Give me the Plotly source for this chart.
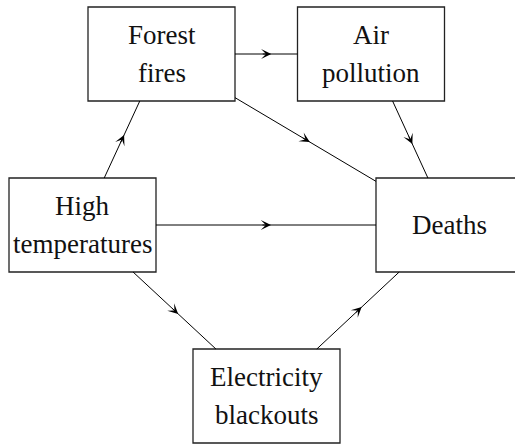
import plotly.graph_objects as go

# Nodes of the causal diagram
node_names = ["Forest fires", "Air pollution", "High temperatures", "Deaths", "Electricity blackouts"]
node_lines = [["Forest", "fires"], ["Air", "pollution"], ["High", "temperatures"], ["Deaths"], ["Electricity", "blackouts"]]
# layout (pixel-like coordinates, y downwards)
node_cx = [161.5, 371.0, 82.5, 449.5, 266.5]
node_cy = [54.0, 54.0, 225.0, 225.0, 396.0]
BOX_W = 147
BOX_H = 94

# Edges (source -> target)
edge_src = ["Forest fires", "High temperatures", "Forest fires", "Air pollution",
            "High temperatures", "High temperatures", "Electricity blackouts"]
edge_dst = ["Air pollution", "Forest fires", "Deaths", "Deaths",
            "Deaths", "Electricity blackouts", "Deaths"]

idx = {n: i for i, n in enumerate(node_names)}
W, H = 515, 445


def clip(cx, cy, dx, dy):
    ts = []
    if dx != 0:
        ts.append((BOX_W / 2) / abs(dx))
    if dy != 0:
        ts.append((BOX_H / 2) / abs(dy))
    t = min(ts)
    return cx + dx * t, cy + dy * t


fig = go.Figure()

# boxes (a box running past the right edge is left open there)
for i, n in enumerate(node_names):
    x0 = node_cx[i] - BOX_W / 2
    x1 = node_cx[i] + BOX_W / 2
    y0 = node_cy[i] - BOX_H / 2
    y1 = node_cy[i] + BOX_H / 2
    if x1 > W:
        xr = W + 30
        path = f"M {xr},{y0} L {x0},{y0} L {x0},{y1} L {xr},{y1}"
    else:
        path = f"M {x0},{y0} L {x1},{y0} L {x1},{y1} L {x0},{y1} Z"
    fig.add_shape(type="path", path=path,
                  line=dict(color="#222222", width=1.3), layer="below")
    lines = node_lines[i]
    k = len(lines)
    for j, t in enumerate(lines):
        off = (j - (k - 1) / 2) * 38
        fig.add_annotation(x=node_cx[i], y=node_cy[i] + off, text=t, showarrow=False,
                           xanchor="center", yanchor="middle",
                           font=dict(family="Liberation Serif", size=27, color="#111111"))

# edges
for s, d in zip(edge_src, edge_dst):
    a, b = idx[s], idx[d]
    dx = node_cx[b] - node_cx[a]
    dy = node_cy[b] - node_cy[a]
    x0, y0 = clip(node_cx[a], node_cy[a], dx, dy)
    x1, y1 = clip(node_cx[b], node_cy[b], -dx, -dy)
    fig.add_trace(go.Scatter(x=[x0, x1], y=[y0, y1], mode="lines",
                             line=dict(color="black", width=1), hoverinfo="skip", showlegend=False))
    L = ((x1 - x0) ** 2 + (y1 - y0) ** 2) ** 0.5
    ux, uy = (x1 - x0) / L, (y1 - y0) / L
    mx, my = (x0 + x1) / 2, (y0 + y1) / 2
    fig.add_annotation(x=mx + ux * 5, y=my + uy * 5, ax=mx - ux * 5, ay=my - uy * 5,
                       axref="x", ayref="y", xref="x", yref="y", text="",
                       showarrow=True, arrowhead=3, arrowsize=1.7, arrowwidth=1,
                       arrowcolor="black", standoff=0, startstandoff=0)

fig.update_layout(
    width=W, height=H,
    margin=dict(l=0, r=0, t=0, b=0),
    paper_bgcolor="white", plot_bgcolor="white",
    xaxis=dict(range=[0, W], visible=False, fixedrange=True),
    yaxis=dict(range=[H, 0], visible=False, fixedrange=True),
    showlegend=False,
)

fig.write_html(
    "out.html",
    config={"displayModeBar": False},
    post_script="document.body.style.margin='0';document.body.style.overflow='hidden';",
)
